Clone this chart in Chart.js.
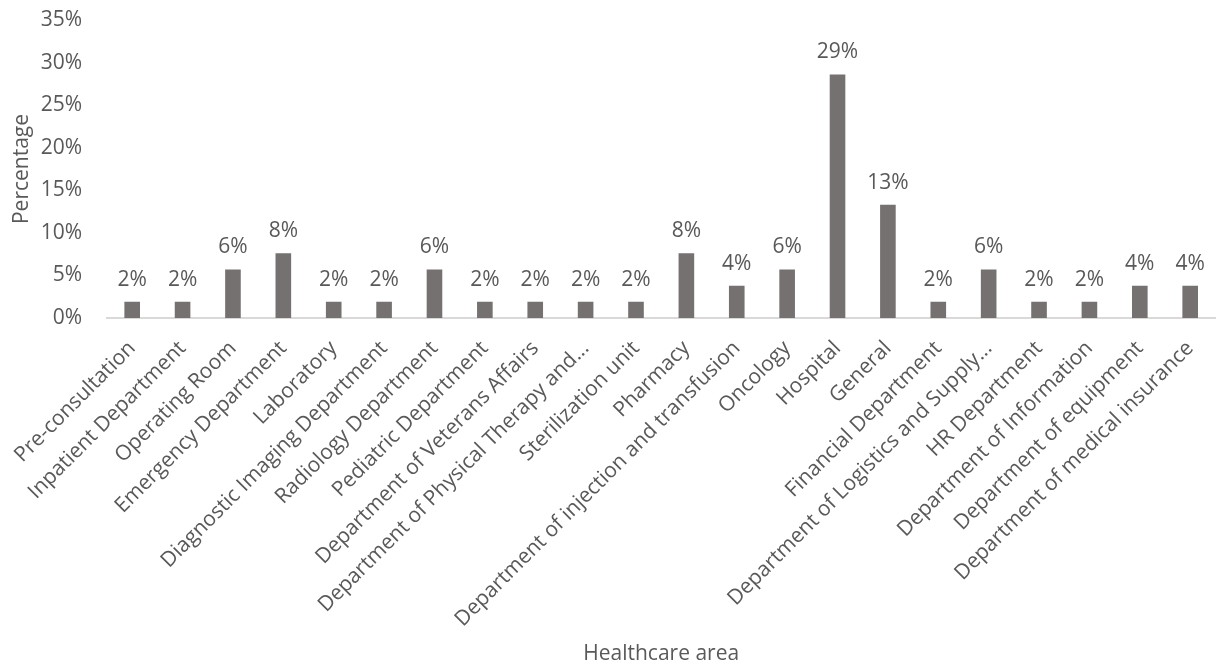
<!DOCTYPE html>
<html>
<head>
<meta charset="utf-8">
<script src="https://cdn.jsdelivr.net/npm/chart.js@4"></script>
<style>
    html, body { margin: 0; padding: 0; background: #fff; }
    #wrap { width: 1218px; height: 667px; position: relative; }
</style>
</head>
<body>
<div id="wrap"><canvas id="areaChart"></canvas></div>
<script>
const areaNames = [
    'Pre-consultation', 'Inpatient Department', 'Operating Room', 'Emergency Department',
    'Laboratory', 'Diagnostic Imaging Department', 'Radiology Department', 'Pediatric Department',
    'Department of Veterans Affairs', 'Department of Physical Therapy and...', 'Sterilization unit',
    'Pharmacy', 'Department of injection and transfusion', 'Oncology', 'Hospital', 'General',
    'Financial Department', 'Department of Logistics and Supply...', 'HR Department',
    'Department of Information', 'Department of equipment', 'Department of medical insurance'
];
const areaPercent = [1.9, 1.9, 5.7, 7.6, 1.9, 1.9, 5.7, 1.9, 1.9, 1.9, 1.9, 7.6, 3.8, 5.7, 28.6, 13.3, 1.9, 5.7, 1.9, 1.9, 3.8, 3.8];
const yTicks = [0, 5, 10, 15, 20, 25, 30, 35];

const textColor = '#595959';
const fontFamily = '"Open Sans", sans-serif';
const fontSize = 21;

// draws the rounded percent above each bar
const barLabels = {
    id: 'barLabels',
    afterDatasetsDraw(chart) {
        const ctx = chart.ctx;
        const meta = chart.getDatasetMeta(0);
        ctx.save();
        ctx.fillStyle = textColor;
        ctx.font = fontSize + 'px ' + fontFamily;
        ctx.textAlign = 'center';
        ctx.textBaseline = 'alphabetic';
        meta.data.forEach(function(bar, i) {
            ctx.fillText(Math.round(areaPercent[i]) + '%', bar.x, bar.y - 16);
        });
        ctx.restore();
    }
};

new Chart(document.getElementById('areaChart').getContext('2d'), {
    type: 'bar',
    data: {
        labels: areaNames,
        datasets: [{
            label: 'Percentage',
            data: areaPercent,
            backgroundColor: '#767171',
            barPercentage: 0.31,
            categoryPercentage: 1
        }]
    },
    options: {
        responsive: true,
        maintainAspectRatio: false,
        animation: false,
        layout: { padding: { top: 20, right: 0, bottom: 0, left: 0 } },
        plugins: {
            legend: { display: false },
            tooltip: { enabled: false }
        },
        scales: {
            x: {
                grid: { display: false },
                border: { color: '#d9d9d9', width: 2 },
                ticks: {
                    color: textColor,
                    font: { family: fontFamily, size: fontSize },
                    maxRotation: 45,
                    minRotation: 45,
                    autoSkip: false,
                    padding: 10
                },
                title: {
                    display: true,
                    text: 'Healthcare area',
                    color: textColor,
                    font: { family: fontFamily, size: fontSize },
                    padding: { top: 0, bottom: 0 }
                },
                afterFit(scale) { scale.height = 349; }
            },
            y: {
                min: 0,
                max: 35,
                grid: { display: false },
                border: { display: false },
                afterBuildTicks(scale) {
                    scale.ticks = yTicks.map(v => ({ value: v }));
                },
                ticks: {
                    color: textColor,
                    font: { family: fontFamily, size: fontSize },
                    padding: 17,
                    callback: v => v + '%'
                },
                title: {
                    display: true,
                    text: 'Percentage',
                    color: textColor,
                    font: { family: fontFamily, size: fontSize },
                    padding: { top: 9, bottom: 0 }
                },
                afterFit(scale) {
                    scale.width = 107;
                    scale.paddingTop = 0;
                    scale.paddingBottom = 0;
                }
            }
        }
    },
    plugins: [barLabels]
});
</script>
</body>
</html>
